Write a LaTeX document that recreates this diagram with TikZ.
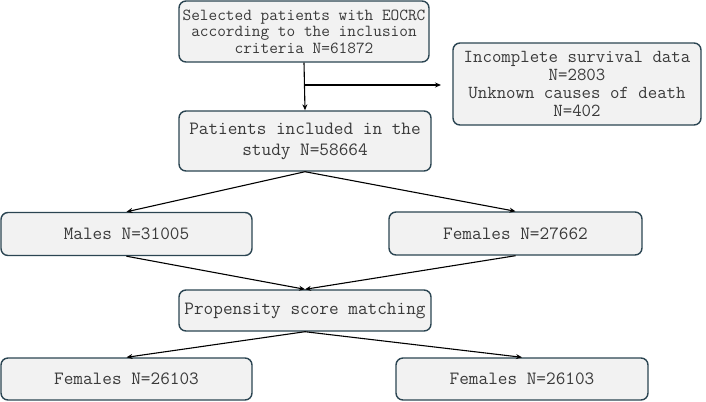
\documentclass[tikz,border=0pt]{standalone}
\usepackage{fontspec}
\usetikzlibrary{arrows.meta}
\definecolor{boxfill}{HTML}{F2F2F2}
\definecolor{boxline}{HTML}{2B4552}
\definecolor{txt}{HTML}{3A3A3A}
\begin{document}
\begin{tikzpicture}[x=1bp,y=-1bp,
  box/.style={draw=boxline, line width=1.4bp, fill=boxfill, rounded corners=7bp,
    inner sep=0pt, align=center, text=txt, font=\ttfamily\fontsize{18.8}{21}\selectfont},
  conn/.style={draw=black, line width=1.1bp, -{Stealth[length=6bp,width=5bp]}}]
\useasboundingbox (0,0) rectangle (706,401);
\node[box, minimum width=250bp, minimum height=61bp,
  font=\ttfamily\fontsize{16.9}{16.5}\selectfont] (b1) at (304,31.5)
  {Selected patients with EOCRC\\according to the inclusion\\criteria N=61872};
\node[box, minimum width=248bp, minimum height=82bp,
  font=\ttfamily\fontsize{18.4}{18.2}\selectfont] (ex) at (577,84)
  {Incomplete survival data\\N=2803\\Unknown causes of death\\N=402};
\node[box, minimum width=252bp, minimum height=60bp] (b2) at (305,141)
  {Patients included in the\\study N=58664};
\node[box, minimum width=251bp, minimum height=43bp] (m) at (126.5,234)
  {Males N=31005};
\node[box, minimum width=253bp, minimum height=43bp] (f) at (515.5,233.5)
  {Females N=27662};
\node[box, minimum width=252bp, minimum height=41bp] (p) at (305,310.5)
  {Propensity score matching};
\node[box, minimum width=251bp, minimum height=42bp] (bl) at (126.5,379)
  {Females N=26103};
\node[box, minimum width=252bp, minimum height=42bp] (br) at (522,379)
  {Females N=26103};
\coordinate (br0) at (304,85);
\coordinate (exin) at (441,85);
\draw[conn] (b1.south) -- (b2.north);
\draw[conn] (br0) -- (exin);
\draw[conn] (b2.south) -- (m.north);
\draw[conn] (b2.south) -- (f.north);
\draw[conn] (m.south) -- (p.north);
\draw[conn] (f.south) -- (p.north);
\draw[conn] (p.south) -- (bl.north);
\draw[conn] (p.south) -- (br.north);
\end{tikzpicture}
\end{document}
